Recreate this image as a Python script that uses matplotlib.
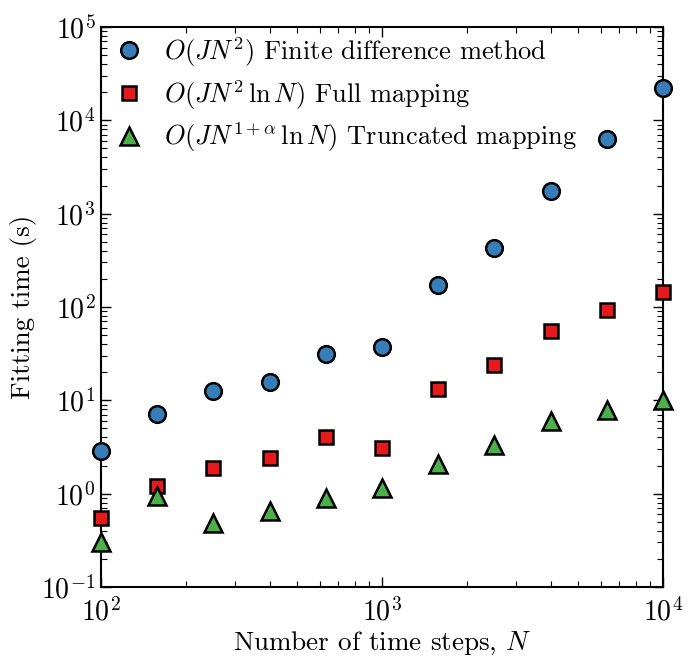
import matplotlib
matplotlib.use("Agg")
import matplotlib.pyplot as plt

plt.rcParams['font.family'] = 'cmr10'
plt.rcParams['mathtext.fontset'] = 'cm'
plt.rcParams['axes.formatter.use_mathtext'] = True

# time steps N
steps = [100, 158, 251, 398, 631, 1000, 1585, 2512, 3981, 6310, 10000]

# fitting times (s)
finite_diff = [2.9, 7.1, 12.5, 15.8, 31, 37, 170, 430, 1750, 6300, 22000]
full_map = [0.55, 1.22, 1.9, 2.4, 4.0, 3.1, 13.2, 24, 55, 92, 145]
trunc_map = [0.30, 0.95, 0.49, 0.65, 0.9, 1.15, 2.1, 3.3, 6.0, 7.9, 10]

labels = [r'$O(JN^2)$ Finite difference method',
          r'$O(JN^2\,\ln N)$ Full mapping',
          r'$O(JN^{1+\alpha}\,\ln N)$ Truncated mapping']

fig = plt.figure(figsize=(6.96, 6.61), dpi=100)
ax = fig.add_axes([101/696, 1-587/661, 562/696, 560/661])

ax.plot(steps, finite_diff, 'o', ms=12, mfc='#377eb8', mec='black', mew=1.8,
        label=labels[0], clip_on=False, zorder=3)
ax.plot(steps, full_map, 's', ms=9.5, mfc='#e41a1c', mec='black', mew=1.8,
        label=labels[1], clip_on=False, zorder=3)
ax.plot(steps, trunc_map, '^', ms=13, mfc='#4daf4a', mec='black', mew=1.8,
        label=labels[2], clip_on=False, zorder=3)

ax.set_xscale('log')
ax.set_yscale('log')
ax.set_xlim(100, 10000)
ax.set_ylim(0.1, 1e5)

ax.tick_params(which='both', direction='in', top=True, right=True, labelsize=20)
ax.tick_params(axis='x', pad=8)
ax.tick_params(axis='y', pad=4)
ax.tick_params(which='major', length=7, width=1)
ax.tick_params(which='minor', length=4, width=0.8)
for s in ax.spines.values():
    s.set_linewidth(1.5)

ax.set_xlabel('Number of time steps, $N$', fontsize=19.5, labelpad=2)
ax.set_ylabel('Fitting time (s)', fontsize=19.5, labelpad=3)

ax.legend(loc='upper left', frameon=False, numpoints=1, fontsize=19,
          handletextpad=0.6, borderpad=0.2, borderaxespad=0.1,
          labelspacing=0.35, handlelength=1.5)

fig.savefig('out.png', dpi=100)
